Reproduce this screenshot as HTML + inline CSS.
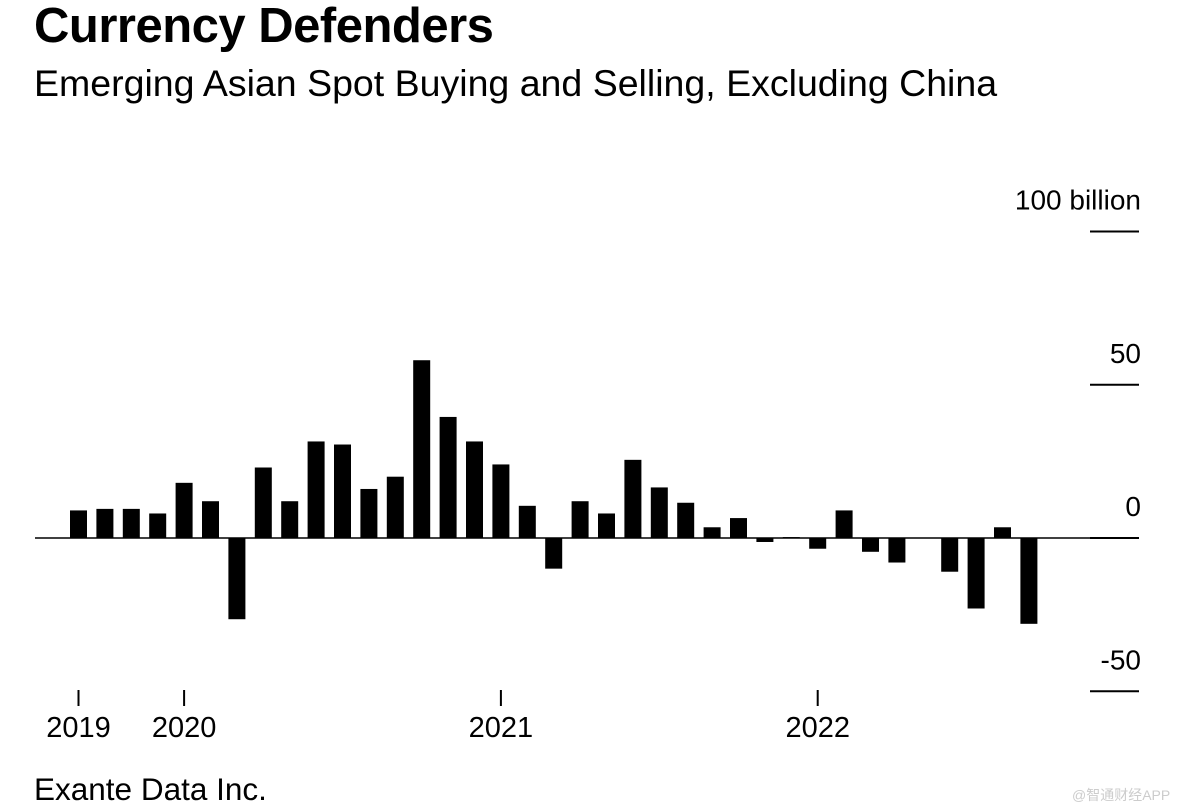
<!DOCTYPE html>
<html><head><meta charset="utf-8"><style>
body{margin:0;background:#fff;font-family:"Liberation Sans",sans-serif;}
#wrap{position:relative;width:1191px;height:812px;overflow:hidden;}
.t{position:absolute;white-space:nowrap;color:#000;}
</style></head><body>
<div id="wrap">
<div class="t" style="left:34px;top:-2px;font-size:49px;font-weight:bold;letter-spacing:-0.5px">Currency Defenders</div>
<div class="t" style="left:34px;top:62px;font-size:37.5px">Emerging Asian Spot Buying and Selling, Excluding China</div>
<svg id="chart" width="1191" height="812" style="position:absolute;left:0;top:0"></svg>
<div class="t" style="left:34px;top:771px;font-size:31.5px">Exante Data Inc.</div>
<div class="t" style="left:1072px;top:785px;font-size:14px;color:#ccc;font-family:'Liberation Sans','Noto Sans CJK SC',sans-serif">@智通财经APP</div>
</div>
<script>
const values=[9,9.5,9.5,8,18,12,-26.5,23,12,31.5,30.5,16,20,58,39.5,31.5,24,10.5,-10,12,8,25.5,16.5,11.5,3.5,6.5,-1.3,0.3,-3.5,9,-4.5,-8,0,-11,-23,3.5,-28,0,0];
const yTicks=[100,50,0,-50];
const yTickLabels=["100 billion","50","0","-50"];
const xTickIdx=[0,4,16,28];
const xTickLabels=["2019","2020","2021","2022"];
const NS="http://www.w3.org/2000/svg";
const svg=document.getElementById('chart');
function y(v){return 538-v*3.065;}
function x(i){return 78.5+i*26.4;}
function mk(tag,attrs){const e=document.createElementNS(NS,tag);for(const k in attrs)e.setAttribute(k,attrs[k]);svg.appendChild(e);return e;}
yTicks.forEach((v,i)=>{
  const l=mk('line',{x1:1090,x2:1139,y1:y(v),y2:y(v),stroke:'#000','stroke-width':2});
  
  
  const t=mk('text',{x:1141,y:y(v)-22,'text-anchor':'end','font-size':28,'font-family':'Liberation Sans, sans-serif'});
  t.textContent=yTickLabels[i];
  
  
});
values.forEach((v,i)=>{
  const r=mk('rect',{x:x(i)-8.5,width:17,y:Math.min(y(v),y(0)),height:Math.abs(y(v)-y(0)),fill:'#000'});
  
  
});
const z=mk('line',{x1:35,x2:1139,y1:y(0),y2:y(0),stroke:'#000','stroke-width':1.5});


xTickIdx.forEach((idx,i)=>{
  const l=mk('line',{x1:x(idx),x2:x(idx),y1:690,y2:706,stroke:'#000','stroke-width':2});
  
  
  const t=mk('text',{x:x(idx),y:737,'text-anchor':'middle','font-size':29,'font-family':'Liberation Sans, sans-serif'});
  t.textContent=xTickLabels[i];
  
  
});
</script>
</body></html>
